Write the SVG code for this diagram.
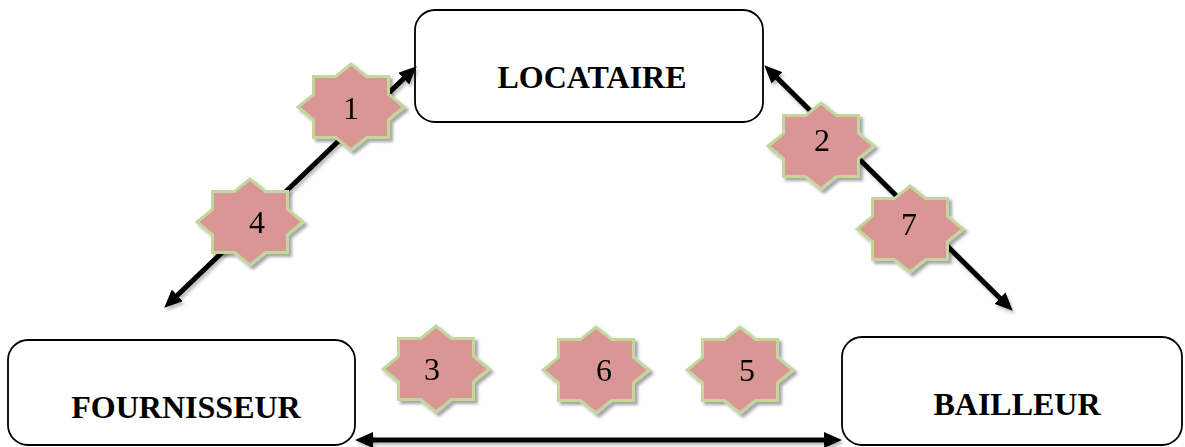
<svg xmlns="http://www.w3.org/2000/svg" xmlns:xlink="http://www.w3.org/1999/xlink" width="1185" height="447" viewBox="0 0 1185 447">
  <style>
    .box { fill: #ffffff; stroke: #000000; stroke-width: 1.8; }
    .lbl { font-family: "Liberation Serif", "Times New Roman", serif; font-weight: bold; font-size: 32px; fill: #000; text-anchor: middle; }
    .num { font-family: "Liberation Serif", "Times New Roman", serif; font-size: 32px; fill: #000; text-anchor: middle; }
    .star { fill: #d99694; stroke: #c3d69b; stroke-width: 3; stroke-linejoin: miter; }
    .conn { stroke: #000; stroke-width: 5; fill: none; marker-start: url(#ah); marker-end: url(#ah); }
  </style>
  <defs>
    <filter id="sh" x="-20%" y="-20%" width="150%" height="150%">
      <feDropShadow dx="3" dy="3" stdDeviation="1.5" flood-color="#000" flood-opacity="0.35"/>
    </filter>
    <filter id="lsh" x="-10%" y="-10%" width="120%" height="120%">
      <feDropShadow dx="2" dy="3" stdDeviation="1.5" flood-color="#000" flood-opacity="0.25"/>
    </filter>
    <marker id="ah" markerUnits="userSpaceOnUse" markerWidth="18" markerHeight="16" refX="8" refY="8" orient="auto-start-reverse">
      <path d="M0,0 L18,8 L0,16 z" fill="#000"/>
    </marker>
    <path id="star8" class="star" d="M53,0 L37.46,12.59 L37.48,30.41 L15.52,30.39 L0,43 L-15.52,30.39 L-37.48,30.41 L-37.46,12.59 L-53,0 L-37.46,-12.59 L-37.48,-30.41 L-15.52,-30.39 L0,-43 L15.52,-30.39 L37.48,-30.41 L37.46,-12.59 Z"/>
  </defs>

  <g id="locataire">
    <rect class="box" x="415" y="10" width="348" height="112" rx="20" ry="20"/>
    <text class="lbl" x="592" y="88">LOCATAIRE</text>
  </g>
  <g id="fournisseur">
    <rect class="box" x="8" y="340" width="347" height="105" rx="20" ry="20"/>
    <text class="lbl" x="186" y="418">FOURNISSEUR</text>
  </g>
  <g id="bailleur">
    <rect class="box" x="842" y="337" width="340" height="108" rx="20" ry="20"/>
    <text class="lbl" x="1017" y="415">BAILLEUR</text>
  </g>

  <g id="connectors" filter="url(#lsh)">
    <line class="conn" x1="171.5" y1="300.9" x2="409.5" y2="73.1"/>
    <line class="conn" x1="771.4" y1="72.3" x2="1005.6" y2="303.7"/>
    <line class="conn" x1="365" y1="440" x2="832" y2="440"/>
  </g>

  <g id="star1" filter="url(#sh)">
    <use xlink:href="#star8" href="#star8" transform="translate(351,107)"/>
    <text class="num" x="351" y="119">1</text>
  </g>
  <g id="star2" filter="url(#sh)">
    <use xlink:href="#star8" href="#star8" transform="translate(821,146)"/>
    <text class="num" x="822" y="151">2</text>
  </g>
  <g id="star3" filter="url(#sh)">
    <use xlink:href="#star8" href="#star8" transform="translate(436,369)"/>
    <text class="num" x="432" y="380">3</text>
  </g>
  <g id="star4" filter="url(#sh)">
    <use xlink:href="#star8" href="#star8" transform="translate(250,222)"/>
    <text class="num" x="257" y="233">4</text>
  </g>
  <g id="star5" filter="url(#sh)">
    <use xlink:href="#star8" href="#star8" transform="translate(740,370)"/>
    <text class="num" x="747" y="381">5</text>
  </g>
  <g id="star6" filter="url(#sh)">
    <use xlink:href="#star8" href="#star8" transform="translate(596,370)"/>
    <text class="num" x="604" y="381">6</text>
  </g>
  <g id="star7" filter="url(#sh)">
    <use xlink:href="#star8" href="#star8" transform="translate(910,229)"/>
    <text class="num" x="909" y="235">7</text>
  </g>
</svg>
